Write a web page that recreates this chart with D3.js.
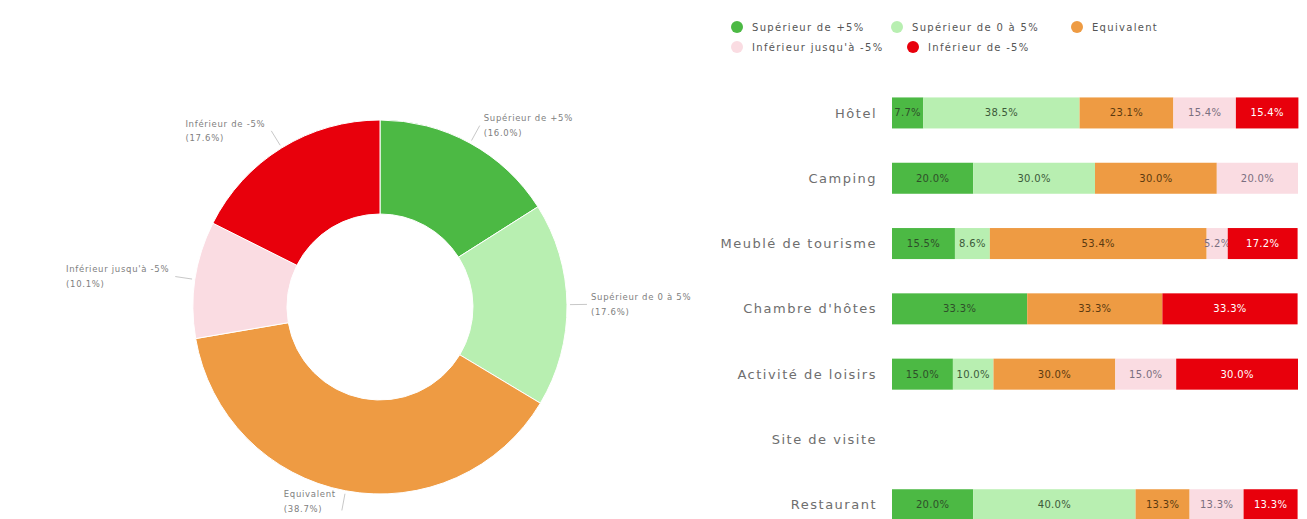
<!DOCTYPE html>
<html><head><meta charset="utf-8">
<script src="https://cdn.jsdelivr.net/npm/d3@7"></script>
<style>
body{margin:0;background:#fff;}
svg{display:block;font-family:"DejaVu Sans",sans-serif;}
</style></head>
<body><svg id="c" width="1307" height="519"></svg>
<script>
const seriesNames = ["Supérieur de +5%","Supérieur de 0 à 5%","Equivalent","Inférieur jusqu'à -5%","Inférieur de -5%"];
const seriesColors = ["#4cb944","#b8efb1","#ee9b43","#fadce2","#e8000c"];
const categories = ["Hôtel","Camping","Meublé de tourisme","Chambre d'hôtes","Activité de loisirs","Site de visite","Restaurant"];
const supPlus5   = [7.7, 20.0, 15.5, 33.3, 15.0, 0, 20.0];
const sup0a5     = [38.5, 30.0, 8.6, 0, 10.0, 0, 40.0];
const equivalent = [23.1, 30.0, 53.4, 33.3, 30.0, 0, 13.3];
const infJusqu5  = [15.4, 20.0, 5.2, 0, 15.0, 0, 13.3];
const infMoins5  = [15.4, 0, 17.2, 33.3, 30.0, 0, 13.3];
const donutValues = [16.0, 17.6, 38.7, 10.1, 17.6];

const svg = d3.select("#c");
const series = [supPlus5, sup0a5, equivalent, infJusqu5, infMoins5];

// ---------- Donut ----------
const cx = 380, cy = 307, R = 187, r = 93;
const pie = d3.pie().sort(null).value(d => d)(donutValues);
const arc = d3.arc().innerRadius(r).outerRadius(R);
const g = svg.append("g").attr("transform", `translate(${cx},${cy})`);
g.selectAll("path.s").data(pie).join("path").attr("class","s")
  .attr("d", arc).attr("fill", (d,i) => seriesColors[i]).attr("stroke","#fff").attr("stroke-width",1);

const lineArc = d3.arc().innerRadius(R + 20).outerRadius(R + 20);
const innerLine = d3.arc().innerRadius(R + 3).outerRadius(R + 3);
pie.forEach((d, i) => {
  const a = (d.startAngle + d.endAngle) / 2;
  const p0 = innerLine.centroid(d);
  const p1 = lineArc.centroid(d);
  const right = Math.sin(a) >= 0;
  g.append("line").attr("x1", p0[0]).attr("y1", p0[1]).attr("x2", p1[0]).attr("y2", p1[1])
    .attr("stroke", "#c8c8c8").attr("stroke-width", 1);
  const t = g.append("text").attr("font-size", 8.5).attr("letter-spacing", 0.7).attr("fill", "#808080");
  t.append("tspan").attr("x", 0).attr("dy", 0).text(seriesNames[i]);
  t.append("tspan").attr("x", 0).attr("dy", 14.5).text(`(${donutValues[i].toFixed(1)}%)`);
  const bb = t.node().getBBox();
  const tx = right ? p1[0] + 4 : p1[0] - 6 - bb.width;
  let ty = p1[1] - bb.height / 2 + 8;
  ty = Math.min(ty, 307 - cy + R + 3);
  t.attr("transform", `translate(${tx},${ty})`);
});

// ---------- Stacked bars ----------
const x = d3.scaleLinear().domain([0, 100]).range([892, 1298]);
const y = d3.scaleBand().domain(categories).range([80.3, 537.4]).paddingInner(0.525).paddingOuter(0.2625);

const stackData = categories.map((c, i) => {
  const o = {cat: c};
  seriesNames.forEach((s, k) => o[s] = series[k][i]);
  return o;
});
const stacked = d3.stack().keys(seriesNames)(stackData);
const textColors = ["#2f4f2a","#3d5a3a","#5a3a10","#7a6f80","#ffffff"];

stacked.forEach((layer, k) => {
  const lg = svg.append("g");
  layer.forEach((d, i) => {
    const v = d.data[seriesNames[k]];
    if (!v) return;
    lg.append("rect").attr("x", x(d[0])).attr("y", y(d.data.cat))
      .attr("width", x(d[1]) - x(d[0])).attr("height", y.bandwidth())
      .attr("fill", seriesColors[k]);
    lg.append("text").attr("x", (x(d[0]) + x(d[1])) / 2).attr("y", y(d.data.cat) + y.bandwidth() / 2)
      .attr("dy", "0.35em").attr("text-anchor", "middle").attr("font-size", 10).attr("letter-spacing", 0.3)
      .attr("fill", textColors[k]).text(v.toFixed(1) + "%");
  });
});

// category axis labels
svg.append("g").selectAll("text").data(categories).join("text")
  .attr("x", 877).attr("y", d => y(d) + y.bandwidth() / 2).attr("dy", "0.35em")
  .attr("text-anchor", "end").attr("font-size", 13).attr("letter-spacing", 1.5)
  .attr("fill", "#6e6e6e").text(d => d);

// ---------- Legend ----------
const legendPos = [[737,27],[897,27],[1077,27],[737,47],[913,47]];
const lgd = svg.append("g");
seriesNames.forEach((s, i) => {
  const [lx, ly] = legendPos[i];
  lgd.append("circle").attr("cx", lx).attr("cy", ly).attr("r", 6).attr("fill", seriesColors[i]);
  lgd.append("text").attr("x", lx + 15).attr("y", ly).attr("dy", "0.35em")
    .attr("font-size", 10).attr("letter-spacing", 1.3).attr("fill", "#555").text(s);
});
</script></body></html>
